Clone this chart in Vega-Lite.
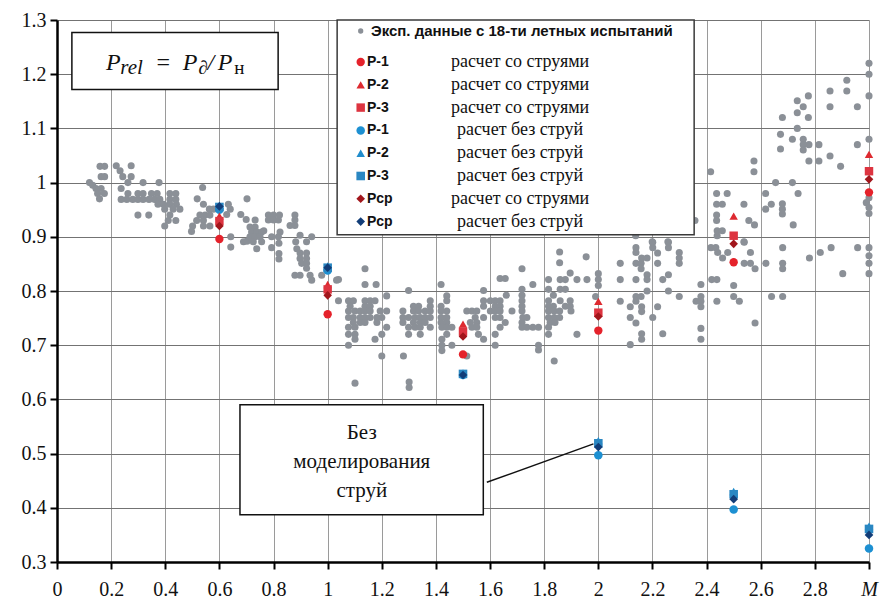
{
  "$schema": "https://vega.github.io/schema/vega-lite/v6.json",
  "width": 812,
  "height": 542,
  "autosize": {"type": "none"},
  "padding": {"left": 57, "top": 20, "right": 16, "bottom": 43},
  "background": "white",
  "config": {"view": {"stroke": null}, "font": "Liberation Serif"},
  "datasets": {
    "exp": [
      {"M":0.159,"P":1.030},{"M":0.176,"P":1.030},{"M":0.219,"P":1.031},{"M":0.233,"P":1.022},{"M":0.274,"P":1.031},
      {"M":0.163,"P":1.011},{"M":0.176,"P":1.011},{"M":0.243,"P":1.011},{"M":0.274,"P":1.011},
      {"M":0.120,"P":1.000},{"M":0.262,"P":1.000},{"M":0.318,"P":1.000},{"M":0.377,"P":1.000},
      {"M":0.132,"P":0.995},{"M":0.144,"P":0.989},{"M":0.163,"P":0.989},{"M":0.150,"P":0.980},{"M":0.175,"P":0.980},{"M":0.157,"P":0.970},
      {"M":0.237,"P":0.989},{"M":0.262,"P":0.980},{"M":0.299,"P":0.980},{"M":0.318,"P":0.980},{"M":0.349,"P":0.980},{"M":0.370,"P":0.980},{"M":0.417,"P":0.980},{"M":0.439,"P":0.980},
      {"M":0.237,"P":0.969},{"M":0.258,"P":0.969},{"M":0.280,"P":0.969},{"M":0.299,"P":0.969},{"M":0.318,"P":0.969},{"M":0.340,"P":0.969},{"M":0.361,"P":0.969},{"M":0.380,"P":0.969},{"M":0.417,"P":0.969},{"M":0.439,"P":0.969},
      {"M":0.373,"P":0.960},{"M":0.394,"P":0.960},{"M":0.417,"P":0.960},{"M":0.441,"P":0.960},
      {"M":0.398,"P":0.951},{"M":0.429,"P":0.951},{"M":0.454,"P":0.951},
      {"M":0.299,"P":0.940},{"M":0.339,"P":0.940},{"M":0.417,"P":0.940},
      {"M":0.411,"P":0.930},{"M":0.439,"P":0.930},{"M":0.398,"P":0.920},
      {"M":0.538,"P":0.991},{"M":0.518,"P":0.970},{"M":0.541,"P":0.960},{"M":0.563,"P":0.951},{"M":0.578,"P":0.951},
      {"M":0.528,"P":0.940},{"M":0.547,"P":0.940},{"M":0.565,"P":0.940},{"M":0.516,"P":0.930},{"M":0.541,"P":0.930},
      {"M":0.501,"P":0.920},{"M":0.541,"P":0.920},{"M":0.565,"P":0.920},{"M":0.497,"P":0.910},
      {"M":0.633,"P":0.960},{"M":0.640,"P":0.951},{"M":0.627,"P":0.941},{"M":0.642,"P":0.900},{"M":0.642,"P":0.881},
      {"M":0.679,"P":0.941},{"M":0.699,"P":0.932},{"M":0.702,"P":0.970},{"M":0.702,"P":0.892},
      {"M":0.732,"P":0.931},{"M":0.781,"P":0.940},{"M":0.800,"P":0.940},{"M":0.822,"P":0.940},{"M":0.879,"P":0.940},
      {"M":0.781,"P":0.931},{"M":0.800,"P":0.931},{"M":0.818,"P":0.931},{"M":0.879,"P":0.931},{"M":0.861,"P":0.921},{"M":0.879,"P":0.921},
      {"M":0.713,"P":0.918},{"M":0.732,"P":0.918},{"M":0.719,"P":0.909},{"M":0.738,"P":0.909},{"M":0.756,"P":0.909},{"M":0.824,"P":0.909},
      {"M":0.713,"P":0.900},{"M":0.732,"P":0.900},{"M":0.750,"P":0.900},{"M":0.793,"P":0.900},{"M":0.818,"P":0.900},
      {"M":0.898,"P":0.903},{"M":0.941,"P":0.900},{"M":0.922,"P":0.891},
      {"M":0.689,"P":0.891},{"M":0.725,"P":0.891},{"M":0.756,"P":0.891},{"M":0.882,"P":0.891},
      {"M":0.738,"P":0.878},{"M":0.793,"P":0.880},{"M":0.820,"P":0.888},{"M":0.886,"P":0.878},
      {"M":0.820,"P":0.869},{"M":0.820,"P":0.859},{"M":0.898,"P":0.870},{"M":0.922,"P":0.870},{"M":0.898,"P":0.860},{"M":0.922,"P":0.860},
      {"M":0.904,"P":0.851},{"M":0.922,"P":0.851},{"M":0.922,"P":0.842},
      {"M":0.879,"P":0.829},{"M":0.898,"P":0.829},{"M":0.935,"P":0.829},{"M":0.941,"P":0.820},{"M":0.978,"P":0.829},{"M":1.033,"P":0.820},
      {"M":0.764,"P":0.911},
      {"M":1.040,"P":0.821},{"M":1.138,"P":0.841},{"M":1.138,"P":0.812},{"M":1.179,"P":0.812},{"M":1.299,"P":0.801},{"M":1.419,"P":0.812},{"M":1.576,"P":0.801},
      {"M":1.637,"P":0.823},{"M":1.656,"P":0.823},{"M":1.718,"P":0.841},{"M":1.758,"P":0.812},{"M":1.857,"P":0.872},{"M":1.857,"P":0.852},{"M":1.955,"P":0.863},{"M":1.896,"P":0.833},
      {"M":1.816,"P":0.821},{"M":1.859,"P":0.821},{"M":1.878,"P":0.821},{"M":1.921,"P":0.821},{"M":1.958,"P":0.821},
      {"M":1.718,"P":0.803},{"M":1.816,"P":0.803},{"M":1.859,"P":0.803},{"M":1.878,"P":0.803},
      {"M":1.660,"P":0.792},{"M":1.718,"P":0.792},{"M":1.718,"P":0.782},{"M":1.718,"P":0.772},{"M":1.718,"P":0.763},{"M":1.834,"P":0.792},
      {"M":1.040,"P":0.782},{"M":1.077,"P":0.782},{"M":1.095,"P":0.782},{"M":1.138,"P":0.782},{"M":1.157,"P":0.782},{"M":1.175,"P":0.782},{"M":1.218,"P":0.791},
      {"M":1.379,"P":0.782},{"M":1.440,"P":0.791},{"M":1.440,"P":0.782},
      {"M":1.576,"P":0.782},{"M":1.601,"P":0.782},{"M":1.619,"P":0.782},{"M":1.637,"P":0.782},
      {"M":1.816,"P":0.782},{"M":1.859,"P":0.782},{"M":1.896,"P":0.782},{"M":1.990,"P":0.790},
      {"M":1.083,"P":0.772},{"M":1.138,"P":0.772},{"M":1.157,"P":0.772},{"M":1.317,"P":0.772},{"M":1.336,"P":0.772},{"M":1.379,"P":0.772},{"M":1.419,"P":0.772},
      {"M":1.576,"P":0.772},{"M":1.619,"P":0.772},{"M":1.637,"P":0.772},
      {"M":1.816,"P":0.772},{"M":1.834,"P":0.772},{"M":1.878,"P":0.772},{"M":1.896,"P":0.772},
      {"M":1.077,"P":0.763},{"M":1.101,"P":0.763},{"M":1.120,"P":0.763},{"M":1.138,"P":0.763},{"M":1.157,"P":0.763},{"M":1.194,"P":0.763},{"M":1.218,"P":0.763},
      {"M":1.278,"P":0.763},{"M":1.317,"P":0.763},{"M":1.336,"P":0.763},{"M":1.360,"P":0.763},{"M":1.379,"P":0.763},{"M":1.419,"P":0.763},{"M":1.440,"P":0.763},
      {"M":1.514,"P":0.763},{"M":1.533,"P":0.763},{"M":1.551,"P":0.763},{"M":1.601,"P":0.763},{"M":1.619,"P":0.763},{"M":1.637,"P":0.763},{"M":1.681,"P":0.763},
      {"M":1.816,"P":0.763},{"M":1.837,"P":0.763},{"M":1.857,"P":0.763},{"M":1.899,"P":0.763},
      {"M":1.077,"P":0.751},{"M":1.095,"P":0.751},{"M":1.120,"P":0.751},{"M":1.138,"P":0.751},{"M":1.157,"P":0.751},{"M":1.182,"P":0.751},{"M":1.200,"P":0.751},
      {"M":1.278,"P":0.751},{"M":1.299,"P":0.751},{"M":1.323,"P":0.751},{"M":1.342,"P":0.751},{"M":1.360,"P":0.751},{"M":1.379,"P":0.751},{"M":1.419,"P":0.751},{"M":1.440,"P":0.751},
      {"M":1.545,"P":0.751},{"M":1.576,"P":0.751},{"M":1.619,"P":0.751},{"M":1.637,"P":0.751},{"M":1.721,"P":0.751},{"M":1.736,"P":0.751},{"M":1.816,"P":0.751},{"M":1.837,"P":0.751},{"M":1.857,"P":0.751},
      {"M":1.095,"P":0.742},{"M":1.120,"P":0.742},{"M":1.138,"P":0.742},{"M":1.182,"P":0.742},{"M":1.278,"P":0.742},{"M":1.317,"P":0.742},{"M":1.342,"P":0.742},{"M":1.360,"P":0.742},{"M":1.419,"P":0.742},{"M":1.440,"P":0.742},
      {"M":1.527,"P":0.742},{"M":1.551,"P":0.742},{"M":1.656,"P":0.742},{"M":1.718,"P":0.742},{"M":1.822,"P":0.742},{"M":1.840,"P":0.742},
      {"M":1.077,"P":0.733},{"M":1.101,"P":0.733},{"M":1.218,"P":0.733},{"M":1.299,"P":0.733},{"M":1.323,"P":0.733},{"M":1.342,"P":0.733},{"M":1.379,"P":0.733},{"M":1.422,"P":0.733},{"M":1.440,"P":0.733},{"M":1.459,"P":0.733},
      {"M":1.533,"P":0.733},{"M":1.551,"P":0.733},{"M":1.637,"P":0.733},{"M":1.718,"P":0.733},{"M":1.736,"P":0.733},{"M":1.758,"P":0.733},{"M":1.779,"P":0.733},{"M":1.816,"P":0.733},
      {"M":1.077,"P":0.720},{"M":1.101,"P":0.720},{"M":1.200,"P":0.720},{"M":1.299,"P":0.720},{"M":1.342,"P":0.720},{"M":1.440,"P":0.720},{"M":1.557,"P":0.720},{"M":1.619,"P":0.720},{"M":1.816,"P":0.720},{"M":1.921,"P":0.720},
      {"M":1.101,"P":0.711},{"M":1.175,"P":0.711},{"M":1.422,"P":0.711},{"M":1.576,"P":0.711},
      {"M":1.077,"P":0.700},{"M":1.422,"P":0.700},{"M":1.459,"P":0.700},{"M":1.619,"P":0.700},{"M":1.779,"P":0.700},{"M":1.779,"P":0.691},{"M":1.422,"P":0.690},
      {"M":1.200,"P":0.680},{"M":1.280,"P":0.680},{"M":1.514,"P":0.680},{"M":1.837,"P":0.671},
      {"M":1.101,"P":0.630},{"M":1.301,"P":0.632},{"M":1.301,"P":0.622},
      {"M":2.000,"P":0.832},{"M":2.000,"P":0.821},{"M":2.000,"P":0.810},
      {"M":2.139,"P":0.880},{"M":2.139,"P":0.871},{"M":2.201,"P":0.890},{"M":2.201,"P":0.880},{"M":2.259,"P":0.890},{"M":2.259,"P":0.880},
      {"M":2.160,"P":0.861},{"M":2.180,"P":0.861},{"M":2.139,"P":0.851},{"M":2.158,"P":0.851},{"M":2.081,"P":0.851},{"M":2.158,"P":0.841},
      {"M":2.219,"P":0.870},{"M":2.219,"P":0.851},{"M":2.299,"P":0.871},{"M":2.299,"P":0.861},{"M":2.299,"P":0.851},
      {"M":2.180,"P":0.830},{"M":2.180,"P":0.821},{"M":2.139,"P":0.821},{"M":2.081,"P":0.821},{"M":2.238,"P":0.821},{"M":2.259,"P":0.830},
      {"M":2.180,"P":0.800},{"M":2.259,"P":0.800},{"M":2.299,"P":0.790},{"M":2.139,"P":0.790},{"M":2.158,"P":0.790},
      {"M":2.081,"P":0.781},{"M":2.139,"P":0.781},{"M":2.118,"P":0.771},{"M":2.160,"P":0.771},{"M":2.160,"P":0.762},{"M":2.219,"P":0.771},
      {"M":2.118,"P":0.751},{"M":2.139,"P":0.741},{"M":2.201,"P":0.751},{"M":2.160,"P":0.721},{"M":2.160,"P":0.711},{"M":2.118,"P":0.701},{"M":2.238,"P":0.721},
      {"M":2.379,"P":0.812},{"M":2.361,"P":0.781},{"M":2.379,"P":0.790},{"M":2.379,"P":0.781},{"M":2.379,"P":0.771},{"M":2.379,"P":0.731},{"M":2.379,"P":0.711},
      {"M":2.438,"P":0.781},{"M":2.419,"P":0.821},{"M":2.438,"P":0.821},
      {"M":2.500,"P":0.810},{"M":2.500,"P":0.790},{"M":2.521,"P":0.781},{"M":2.579,"P":0.741},{"M":2.640,"P":0.790},{"M":2.681,"P":0.790},
      {"M":2.416,"P":0.880},{"M":2.434,"P":0.880},{"M":2.441,"P":0.871},{"M":2.459,"P":0.861},{"M":2.478,"P":0.871},{"M":2.539,"P":0.890},{"M":2.562,"P":0.871},
      {"M":2.539,"P":0.851},{"M":2.562,"P":0.851},{"M":2.579,"P":0.841},{"M":2.619,"P":0.851},{"M":2.681,"P":0.880},{"M":2.681,"P":0.851},{"M":2.681,"P":0.841},
      {"M":2.780,"P":0.861},{"M":2.820,"P":0.871},{"M":2.860,"P":0.880},{"M":2.903,"P":0.832},{"M":2.958,"P":0.880},
      {"M":3.000,"P":0.880},{"M":3.000,"P":0.865},{"M":3.000,"P":0.851},{"M":3.000,"P":0.832},
      {"M":3.000,"P":1.220},{"M":3.000,"P":1.200},{"M":3.000,"P":1.160},{"M":3.000,"P":1.080},
      {"M":3.000,"P":0.972},{"M":2.990,"P":0.963},{"M":3.000,"P":0.954},{"M":3.000,"P":0.943},
      {"M":2.918,"P":1.189},{"M":2.918,"P":1.169},{"M":2.856,"P":1.169},{"M":2.957,"P":1.140},{"M":2.856,"P":1.140},
      {"M":2.776,"P":1.160},{"M":2.735,"P":1.151},{"M":2.757,"P":1.140},{"M":2.735,"P":1.129},{"M":2.776,"P":1.120},{"M":2.680,"P":1.120},
      {"M":2.735,"P":1.100},{"M":2.673,"P":1.089},{"M":2.717,"P":1.080},{"M":2.673,"P":1.062},
      {"M":2.757,"P":1.080},{"M":2.757,"P":1.070},{"M":2.757,"P":1.060},{"M":2.778,"P":1.070},{"M":2.815,"P":1.070},
      {"M":2.778,"P":1.040},{"M":2.815,"P":1.040},{"M":2.856,"P":1.049},{"M":2.895,"P":1.030},{"M":2.957,"P":1.070},
      {"M":2.575,"P":1.040},{"M":2.575,"P":1.020},{"M":2.415,"P":1.020},
      {"M":2.655,"P":1.000},{"M":2.717,"P":1.000},{"M":2.618,"P":0.980},{"M":2.738,"P":0.980},
      {"M":2.618,"P":0.951},{"M":2.639,"P":0.960},{"M":2.680,"P":0.961},{"M":2.680,"P":0.951},{"M":2.680,"P":0.942},{"M":2.720,"P":0.922},
      {"M":2.437,"P":0.980},{"M":2.476,"P":0.980},{"M":2.437,"P":0.960},{"M":2.458,"P":0.960},{"M":2.538,"P":0.960},
      {"M":2.437,"P":0.940},{"M":2.437,"P":0.930},{"M":2.556,"P":0.930},{"M":2.577,"P":0.922},
      {"M":2.298,"P":0.960},{"M":2.178,"P":0.930},{"M":2.357,"P":0.930},
      {"M":2.138,"P":0.902},{"M":2.199,"P":0.891},{"M":2.257,"P":0.891},{"M":2.439,"P":0.902},{"M":2.439,"P":0.911},{"M":2.458,"P":0.911},{"M":2.538,"P":0.891}
    ],
    "calc": [
      {"M":0.6,"P":0.950,"s":"P-1 без струй"},{"M":1.0,"P":0.838,"s":"P-1 без струй"},{"M":1.5,"P":0.645,"s":"P-1 без струй"},{"M":2.0,"P":0.497,"s":"P-1 без струй"},{"M":2.5,"P":0.397,"s":"P-1 без струй"},{"M":3.0,"P":0.325,"s":"P-1 без струй"},
      {"M":0.6,"P":0.958,"s":"P-2 без струй"},{"M":1.0,"P":0.846,"s":"P-2 без струй"},{"M":1.5,"P":0.649,"s":"P-2 без струй"},{"M":2.0,"P":0.524,"s":"P-2 без струй"},{"M":2.5,"P":0.430,"s":"P-2 без струй"},{"M":3.0,"P":0.366,"s":"P-2 без струй"},
      {"M":0.6,"P":0.955,"s":"P-3 без струй"},{"M":1.0,"P":0.843,"s":"P-3 без струй"},{"M":1.5,"P":0.647,"s":"P-3 без струй"},{"M":2.0,"P":0.519,"s":"P-3 без струй"},{"M":2.5,"P":0.425,"s":"P-3 без струй"},{"M":3.0,"P":0.361,"s":"P-3 без струй"},
      {"M":0.6,"P":0.896,"s":"P-1 со струями"},{"M":1.0,"P":0.757,"s":"P-1 со струями"},{"M":1.5,"P":0.683,"s":"P-1 со струями"},{"M":2.0,"P":0.727,"s":"P-1 со струями"},{"M":2.5,"P":0.853,"s":"P-1 со струями"},{"M":3.0,"P":0.982,"s":"P-1 со струями"},
      {"M":0.6,"P":0.938,"s":"P-2 со струями"},{"M":1.0,"P":0.812,"s":"P-2 со струями"},{"M":1.5,"P":0.739,"s":"P-2 со струями"},{"M":2.0,"P":0.781,"s":"P-2 со струями"},{"M":2.5,"P":0.938,"s":"P-2 со струями"},{"M":3.0,"P":1.052,"s":"P-2 со струями"},
      {"M":0.6,"P":0.929,"s":"P-3 со струями"},{"M":1.0,"P":0.803,"s":"P-3 со струями"},{"M":1.5,"P":0.725,"s":"P-3 со струями"},{"M":2.0,"P":0.760,"s":"P-3 со струями"},{"M":2.5,"P":0.902,"s":"P-3 со струями"},{"M":3.0,"P":1.021,"s":"P-3 со струями"},
      {"M":0.6,"P":0.920,"s":"Рср со струями"},{"M":1.0,"P":0.792,"s":"Рср со струями"},{"M":1.5,"P":0.716,"s":"Рср со струями"},{"M":2.0,"P":0.753,"s":"Рср со струями"},{"M":2.5,"P":0.887,"s":"Рср со струями"},{"M":3.0,"P":1.006,"s":"Рср со струями"},
      {"M":0.6,"P":0.956,"s":"Рср без струй"},{"M":1.0,"P":0.843,"s":"Рср без струй"},{"M":1.5,"P":0.645,"s":"Рср без струй"},{"M":2.0,"P":0.512,"s":"Рср без струй"},{"M":2.5,"P":0.416,"s":"Рср без струй"},{"M":3.0,"P":0.350,"s":"Рср без струй"}
    ]
  },
  "layer": [
    {
      "data": {"name": "exp"},
      "mark": {"type": "circle", "size": 50, "color": "#8b9097", "opacity": 1},
      "encoding": {
        "x": {
          "field": "M", "type": "quantitative",
          "scale": {"domain": [0, 3], "nice": false, "zero": false},
          "axis": {
            "orient": "bottom",
            "values": [0, 0.1, 0.2, 0.3, 0.4, 0.5, 0.6, 0.7, 0.8, 0.9, 1, 1.1, 1.2, 1.3, 1.4, 1.5, 1.6, 1.7, 1.8, 1.9, 2, 2.1, 2.2, 2.3, 2.4, 2.5, 2.6, 2.7, 2.8, 2.9, 3],
            "title": null,
            "grid": true, "gridColor": "#9a9a9a", "gridWidth": 1,
            "gridOpacity": {"condition": {"test": "round(datum.value * 10) % 2 == 1", "value": 0}, "value": 1},
            "domain": true, "domainColor": "#000000", "domainWidth": 2.5,
            "ticks": true, "tickSize": 7, "tickWidth": 2, "tickColor": "#000000",
            "labelFont": "Liberation Serif", "labelFontSize": 20, "labelColor": "#111111",
            "labelPadding": 10, "labelFlush": false, "labelOverlap": false,
            "labelExpr": "round(datum.value * 10) % 2 == 1 ? '' : (datum.value > 2.99 ? 'M' : format(datum.value, '~g'))",
            "labelFontStyle": {"condition": {"test": "datum.value > 2.99", "value": "italic"}, "value": "normal"}
          }
        },
        "y": {
          "field": "P", "type": "quantitative",
          "scale": {"domain": [0.3, 1.3], "nice": false, "zero": false},
          "axis": {
            "orient": "left",
            "values": [0.3, 0.4, 0.5, 0.6, 0.7, 0.8, 0.9, 1, 1.1, 1.2, 1.3],
            "title": null, "format": "~g",
            "grid": true, "gridColor": "#737373", "gridWidth": 1,
            "domain": true, "domainColor": "#000000", "domainWidth": 2.5,
            "ticks": true, "tickSize": 7, "tickWidth": 2, "tickColor": "#000000",
            "labelFont": "Liberation Serif", "labelFontSize": 20, "labelColor": "#111111",
            "labelPadding": 4, "labelOverlap": false
          }
        }
      }
    },
    {
      "data": {"name": "calc"},
      "mark": {"type": "point", "filled": true, "opacity": 1},
      "encoding": {
        "x": {"field": "M", "type": "quantitative"},
        "y": {"field": "P", "type": "quantitative"},
        "shape": {
          "field": "s", "type": "nominal", "legend": null,
          "scale": {
            "domain": ["P-1 со струями", "P-2 со струями", "P-3 со струями", "P-1 без струй", "P-2 без струй", "P-3 без струй", "Рср со струями", "Рср без струй"],
            "range": ["circle", "triangle-up", "square", "circle", "triangle-up", "square", "diamond", "diamond"]
          }
        },
        "color": {
          "field": "s", "type": "nominal", "legend": null,
          "scale": {
            "domain": ["P-1 со струями", "P-2 со струями", "P-3 со струями", "P-1 без струй", "P-2 без струй", "P-3 без струй", "Рср со струями", "Рср без струй"],
            "range": ["#e5222b", "#de2a30", "#dd3440", "#1d90d2", "#208ccc", "#2a87c2", "#a2161c", "#123d78"]
          }
        },
        "size": {
          "field": "s", "type": "nominal", "legend": null,
          "scale": {
            "domain": ["P-1 со струями", "P-2 со струями", "P-3 со струями", "P-1 без струй", "P-2 без струй", "P-3 без струй", "Рср со струями", "Рср без струй"],
            "range": [70, 75, 55, 70, 75, 55, 110, 110]
          }
        }
      }
    },
    {
      "data": {"values": [{}]},
      "layer": [
        {
          "mark": {"type": "rect", "fill": "#ffffff", "stroke": "#3a3a3a", "strokeWidth": 1.5},
          "encoding": {
            "x": {"datum": 1.035, "type": "quantitative"},
            "x2": {"datum": 2.354},
            "y": {"datum": 1.3, "type": "quantitative"},
            "y2": {"datum": 0.904}
          }
        },
        {
          "mark": {"type": "rect", "fill": "#ffffff", "stroke": "#111111", "strokeWidth": 1.5},
          "encoding": {
            "x": {"datum": 0.055, "type": "quantitative"},
            "x2": {"datum": 0.817},
            "y": {"datum": 1.277, "type": "quantitative"},
            "y2": {"datum": 1.172}
          }
        },
        {
          "mark": {"type": "text", "text": "P", "font": "Liberation Serif", "fontStyle": "italic", "fontSize": 24, "align": "left", "baseline": "alphabetic", "color": "#111111"},
          "encoding": {"x": {"datum": 0.181, "type": "quantitative"}, "y": {"datum": 1.2085, "type": "quantitative"}}
        },
        {
          "mark": {"type": "text", "text": "rel", "font": "Liberation Serif", "fontStyle": "italic", "fontSize": 21, "align": "left", "baseline": "alphabetic", "color": "#111111"},
          "encoding": {"x": {"datum": 0.234, "type": "quantitative"}, "y": {"datum": 1.200, "type": "quantitative"}}
        },
        {
          "mark": {"type": "text", "text": "=", "font": "Liberation Serif", "fontSize": 24, "align": "left", "baseline": "alphabetic", "color": "#111111"},
          "encoding": {"x": {"datum": 0.368, "type": "quantitative"}, "y": {"datum": 1.2085, "type": "quantitative"}}
        },
        {
          "mark": {"type": "text", "text": "P", "font": "Liberation Serif", "fontStyle": "italic", "fontSize": 24, "align": "left", "baseline": "alphabetic", "color": "#111111"},
          "encoding": {"x": {"datum": 0.4645, "type": "quantitative"}, "y": {"datum": 1.2085, "type": "quantitative"}}
        },
        {
          "mark": {"type": "text", "text": "∂", "font": "Liberation Serif", "fontStyle": "italic", "fontSize": 19, "align": "left", "baseline": "alphabetic", "color": "#111111"},
          "encoding": {"x": {"datum": 0.522, "type": "quantitative"}, "y": {"datum": 1.200, "type": "quantitative"}}
        },
        {
          "mark": {"type": "text", "text": "/", "font": "Liberation Serif", "fontStyle": "italic", "fontSize": 24, "align": "left", "baseline": "alphabetic", "color": "#111111"},
          "encoding": {"x": {"datum": 0.556, "type": "quantitative"}, "y": {"datum": 1.2085, "type": "quantitative"}}
        },
        {
          "mark": {"type": "text", "text": "P", "font": "Liberation Serif", "fontStyle": "italic", "fontSize": 24, "align": "left", "baseline": "alphabetic", "color": "#111111"},
          "encoding": {"x": {"datum": 0.594, "type": "quantitative"}, "y": {"datum": 1.2085, "type": "quantitative"}}
        },
        {
          "mark": {"type": "text", "text": "н", "font": "Liberation Serif", "fontSize": 19, "align": "left", "baseline": "alphabetic", "color": "#111111"},
          "encoding": {"x": {"datum": 0.655, "type": "quantitative"}, "y": {"datum": 1.200, "type": "quantitative"}}
        },
        {
          "mark": {"type": "rule", "stroke": "#111111", "strokeWidth": 1.5},
          "encoding": {
            "x": {"datum": 1.588, "type": "quantitative"},
            "y": {"datum": 0.447, "type": "quantitative"},
            "x2": {"datum": 1.982},
            "y2": {"datum": 0.518}
          }
        },
        {
          "mark": {"type": "rect", "fill": "#ffffff", "stroke": "#111111", "strokeWidth": 1.5},
          "encoding": {
            "x": {"datum": 0.676, "type": "quantitative"},
            "x2": {"datum": 1.575},
            "y": {"datum": 0.590, "type": "quantitative"},
            "y2": {"datum": 0.387}
          }
        },
        {
          "mark": {"type": "text", "text": "Без\nмоделирования\nструй", "lineBreak": "\n", "lineHeight": 29, "font": "Liberation Serif", "fontSize": 21, "align": "center", "baseline": "middle", "color": "#111111"},
          "encoding": {"x": {"datum": 1.126, "type": "quantitative"}, "y": {"datum": 0.538, "type": "quantitative"}}
        },
        {
          "mark": {"type": "circle", "size": 28, "color": "#8b9097", "opacity": 1},
          "encoding": {"x": {"datum": 1.122, "type": "quantitative"}, "y": {"datum": 1.2797, "type": "quantitative"}}
        },
        {
          "mark": {"type": "text", "text": "Эксп. данные с 18-ти летных испытаний", "font": "Liberation Sans", "fontWeight": "bold", "fontSize": 15, "align": "left", "baseline": "middle", "color": "#111111"},
          "encoding": {"x": {"datum": 1.160, "type": "quantitative"}, "y": {"datum": 1.2797, "type": "quantitative"}}
        }
      ]
    },
    {
      "data": {"values": [{"s": "P-1 со струями"}]},
      "encoding": {"y": {"datum": 1.2225, "type": "quantitative"}},
      "layer": [
        {"mark": {"type": "point", "filled": true, "opacity": 1}, "encoding": {"x": {"datum": 1.122, "type": "quantitative"}, "shape": {"field": "s", "type": "nominal", "legend": null}, "color": {"field": "s", "type": "nominal", "legend": null}, "size": {"field": "s", "type": "nominal", "legend": null}}},
        {"mark": {"type": "text", "text": "P-1", "font": "Liberation Sans", "fontWeight": "bold", "fontSize": 14, "align": "left", "baseline": "middle", "color": "#111111"}, "encoding": {"x": {"datum": 1.145, "type": "quantitative"}}},
        {"mark": {"type": "text", "text": "расчет со струями", "font": "Liberation Serif", "fontSize": 18, "align": "center", "baseline": "middle", "color": "#111111"}, "encoding": {"x": {"datum": 1.711, "type": "quantitative"}}}
      ]
    },
    {
      "data": {"values": [{"s": "P-2 со струями"}]},
      "encoding": {"y": {"datum": 1.1804, "type": "quantitative"}},
      "layer": [
        {"mark": {"type": "point", "filled": true, "opacity": 1}, "encoding": {"x": {"datum": 1.122, "type": "quantitative"}, "shape": {"field": "s", "type": "nominal", "legend": null}, "color": {"field": "s", "type": "nominal", "legend": null}, "size": {"field": "s", "type": "nominal", "legend": null}}},
        {"mark": {"type": "text", "text": "P-2", "font": "Liberation Sans", "fontWeight": "bold", "fontSize": 14, "align": "left", "baseline": "middle", "color": "#111111"}, "encoding": {"x": {"datum": 1.145, "type": "quantitative"}}},
        {"mark": {"type": "text", "text": "расчет со струями", "font": "Liberation Serif", "fontSize": 18, "align": "center", "baseline": "middle", "color": "#111111"}, "encoding": {"x": {"datum": 1.711, "type": "quantitative"}}}
      ]
    },
    {
      "data": {"values": [{"s": "P-3 со струями"}]},
      "encoding": {"y": {"datum": 1.1384, "type": "quantitative"}},
      "layer": [
        {"mark": {"type": "point", "filled": true, "opacity": 1}, "encoding": {"x": {"datum": 1.122, "type": "quantitative"}, "shape": {"field": "s", "type": "nominal", "legend": null}, "color": {"field": "s", "type": "nominal", "legend": null}, "size": {"field": "s", "type": "nominal", "legend": null}}},
        {"mark": {"type": "text", "text": "P-3", "font": "Liberation Sans", "fontWeight": "bold", "fontSize": 14, "align": "left", "baseline": "middle", "color": "#111111"}, "encoding": {"x": {"datum": 1.145, "type": "quantitative"}}},
        {"mark": {"type": "text", "text": "расчет со струями", "font": "Liberation Serif", "fontSize": 18, "align": "center", "baseline": "middle", "color": "#111111"}, "encoding": {"x": {"datum": 1.711, "type": "quantitative"}}}
      ]
    },
    {
      "data": {"values": [{"s": "P-1 без струй"}]},
      "encoding": {"y": {"datum": 1.0963, "type": "quantitative"}},
      "layer": [
        {"mark": {"type": "point", "filled": true, "opacity": 1}, "encoding": {"x": {"datum": 1.122, "type": "quantitative"}, "shape": {"field": "s", "type": "nominal", "legend": null}, "color": {"field": "s", "type": "nominal", "legend": null}, "size": {"field": "s", "type": "nominal", "legend": null}}},
        {"mark": {"type": "text", "text": "P-1", "font": "Liberation Sans", "fontWeight": "bold", "fontSize": 14, "align": "left", "baseline": "middle", "color": "#111111"}, "encoding": {"x": {"datum": 1.145, "type": "quantitative"}}},
        {"mark": {"type": "text", "text": "расчет без струй", "font": "Liberation Serif", "fontSize": 18, "align": "center", "baseline": "middle", "color": "#111111"}, "encoding": {"x": {"datum": 1.711, "type": "quantitative"}}}
      ]
    },
    {
      "data": {"values": [{"s": "P-2 без струй"}]},
      "encoding": {"y": {"datum": 1.0542, "type": "quantitative"}},
      "layer": [
        {"mark": {"type": "point", "filled": true, "opacity": 1}, "encoding": {"x": {"datum": 1.122, "type": "quantitative"}, "shape": {"field": "s", "type": "nominal", "legend": null}, "color": {"field": "s", "type": "nominal", "legend": null}, "size": {"field": "s", "type": "nominal", "legend": null}}},
        {"mark": {"type": "text", "text": "P-2", "font": "Liberation Sans", "fontWeight": "bold", "fontSize": 14, "align": "left", "baseline": "middle", "color": "#111111"}, "encoding": {"x": {"datum": 1.145, "type": "quantitative"}}},
        {"mark": {"type": "text", "text": "расчет без струй", "font": "Liberation Serif", "fontSize": 18, "align": "center", "baseline": "middle", "color": "#111111"}, "encoding": {"x": {"datum": 1.711, "type": "quantitative"}}}
      ]
    },
    {
      "data": {"values": [{"s": "P-3 без струй"}]},
      "encoding": {"y": {"datum": 1.0122, "type": "quantitative"}},
      "layer": [
        {"mark": {"type": "point", "filled": true, "opacity": 1}, "encoding": {"x": {"datum": 1.122, "type": "quantitative"}, "shape": {"field": "s", "type": "nominal", "legend": null}, "color": {"field": "s", "type": "nominal", "legend": null}, "size": {"field": "s", "type": "nominal", "legend": null}}},
        {"mark": {"type": "text", "text": "P-3", "font": "Liberation Sans", "fontWeight": "bold", "fontSize": 14, "align": "left", "baseline": "middle", "color": "#111111"}, "encoding": {"x": {"datum": 1.145, "type": "quantitative"}}},
        {"mark": {"type": "text", "text": "расчет без струй", "font": "Liberation Serif", "fontSize": 18, "align": "center", "baseline": "middle", "color": "#111111"}, "encoding": {"x": {"datum": 1.711, "type": "quantitative"}}}
      ]
    },
    {
      "data": {"values": [{"s": "Рср со струями"}]},
      "encoding": {"y": {"datum": 0.9701, "type": "quantitative"}},
      "layer": [
        {"mark": {"type": "point", "filled": true, "opacity": 1}, "encoding": {"x": {"datum": 1.122, "type": "quantitative"}, "shape": {"field": "s", "type": "nominal", "legend": null}, "color": {"field": "s", "type": "nominal", "legend": null}, "size": {"field": "s", "type": "nominal", "legend": null}}},
        {"mark": {"type": "text", "text": "Рср", "font": "Liberation Sans", "fontWeight": "bold", "fontSize": 14, "align": "left", "baseline": "middle", "color": "#111111"}, "encoding": {"x": {"datum": 1.145, "type": "quantitative"}}},
        {"mark": {"type": "text", "text": "расчет со струями", "font": "Liberation Serif", "fontSize": 18, "align": "center", "baseline": "middle", "color": "#111111"}, "encoding": {"x": {"datum": 1.711, "type": "quantitative"}}}
      ]
    },
    {
      "data": {"values": [{"s": "Рср без струй"}]},
      "encoding": {"y": {"datum": 0.9280, "type": "quantitative"}},
      "layer": [
        {"mark": {"type": "point", "filled": true, "opacity": 1}, "encoding": {"x": {"datum": 1.122, "type": "quantitative"}, "shape": {"field": "s", "type": "nominal", "legend": null}, "color": {"field": "s", "type": "nominal", "legend": null}, "size": {"field": "s", "type": "nominal", "legend": null}}},
        {"mark": {"type": "text", "text": "Рср", "font": "Liberation Sans", "fontWeight": "bold", "fontSize": 14, "align": "left", "baseline": "middle", "color": "#111111"}, "encoding": {"x": {"datum": 1.145, "type": "quantitative"}}},
        {"mark": {"type": "text", "text": "расчет без струй", "font": "Liberation Serif", "fontSize": 18, "align": "center", "baseline": "middle", "color": "#111111"}, "encoding": {"x": {"datum": 1.711, "type": "quantitative"}}}
      ]
    }
  ]
}
